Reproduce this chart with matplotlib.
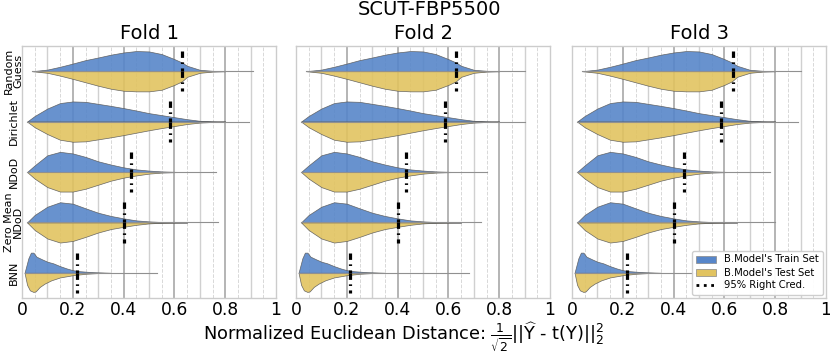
import matplotlib
matplotlib.use('Agg')
import matplotlib.pyplot as plt
from matplotlib.patches import Patch
from matplotlib.lines import Line2D

# ---- data ----
methods = ["Random\nGuess", "Dirichlet", "NDoD", "Zero Mean\nNDoD", "BNN"]
folds = ["Fold 1", "Fold 2", "Fold 3"]

# relative density profiles (max = 1), train = upper half, test = lower half
rg_x = [0.04, 0.10, 0.15, 0.20, 0.25, 0.30, 0.35, 0.40, 0.45, 0.50, 0.55, 0.60, 0.63, 0.65, 0.70, 0.75, 0.80]
rg_train = [0, 0.08, 0.22, 0.38, 0.55, 0.68, 0.82, 0.93, 1.0, 0.98, 0.85, 0.60, 0.43, 0.27, 0.07, 0.02, 0]
rg_test = [0, 0.08, 0.22, 0.38, 0.55, 0.72, 0.87, 0.97, 1.0, 1.0, 0.92, 0.68, 0.50, 0.28, 0.08, 0.02, 0]

dir_x = [0.02, 0.05, 0.10, 0.15, 0.20, 0.25, 0.30, 0.35, 0.40, 0.45, 0.50, 0.55, 0.60, 0.65, 0.70, 0.75, 0.80]
dir_train = [0, 0.28, 0.65, 0.92, 1.0, 0.98, 0.88, 0.78, 0.67, 0.55, 0.42, 0.32, 0.22, 0.12, 0.04, 0.01, 0]
dir_test = [0, 0.28, 0.62, 0.90, 1.0, 0.98, 0.88, 0.78, 0.67, 0.55, 0.43, 0.32, 0.22, 0.12, 0.05, 0.02, 0]

ndod_x = [0.02, 0.05, 0.10, 0.15, 0.20, 0.25, 0.30, 0.35, 0.40, 0.45, 0.50, 0.55, 0.60, 0.65]
ndod_train = [0, 0.33, 0.83, 1.0, 0.92, 0.75, 0.53, 0.37, 0.23, 0.13, 0.07, 0.03, 0.01, 0]
ndod_test = [0, 0.33, 0.75, 0.97, 0.97, 0.83, 0.63, 0.43, 0.28, 0.17, 0.08, 0.03, 0.01, 0]

zm_x = [0.02, 0.05, 0.10, 0.15, 0.20, 0.25, 0.30, 0.35, 0.40, 0.45, 0.50, 0.55, 0.60, 0.65]
zm_train = [0, 0.37, 0.78, 1.0, 0.93, 0.70, 0.48, 0.32, 0.20, 0.10, 0.05, 0.02, 0.01, 0]
zm_test = [0, 0.38, 0.80, 1.0, 0.92, 0.72, 0.50, 0.33, 0.22, 0.12, 0.05, 0.02, 0.01, 0]

bnn_x_train = [0.01, 0.025, 0.035, 0.045, 0.057, 0.077, 0.10, 0.123, 0.15, 0.175, 0.20, 0.227, 0.28, 0.35]
bnn_train = [0, 0.72, 1.0, 1.0, 0.80, 0.68, 0.55, 0.47, 0.33, 0.22, 0.13, 0.08, 0.03, 0]
bnn_x_test = [0.01, 0.02, 0.031, 0.045, 0.054, 0.07, 0.09, 0.116, 0.15, 0.20, 0.25, 0.32]
bnn_test = [0, 0.60, 0.87, 0.95, 0.92, 0.70, 0.53, 0.37, 0.23, 0.12, 0.05, 0]

# 95% right credible value per method, per fold
cred_fold1 = [0.630, 0.584, 0.430, 0.400, 0.217]
cred_fold2 = [0.631, 0.585, 0.433, 0.400, 0.213]
cred_fold3 = [0.634, 0.586, 0.439, 0.402, 0.216]

# max observed distance per method, per fold (end of thin range line)
max_fold1 = [0.91, 0.895, 0.765, 0.77, 0.53]
max_fold2 = [0.90, 0.90, 0.75, 0.73, 0.68]
max_fold3 = [0.90, 0.89, 0.78, 0.80, 0.55]

profiles = [
    (rg_x, rg_train, rg_x, rg_test),
    (dir_x, dir_train, dir_x, dir_test),
    (ndod_x, ndod_train, ndod_x, ndod_test),
    (zm_x, zm_train, zm_x, zm_test),
    (bnn_x_train, bnn_train, bnn_x_test, bnn_test),
]
creds = [cred_fold1, cred_fold2, cred_fold3]
maxes = [max_fold1, max_fold2, max_fold3]

train_color = '#5786c9'
test_color = '#e1c360'
half = 0.4
cred_ls = (0, (2.0, 1.4, 0.5, 1.4))

fig = plt.figure(figsize=(8.3, 3.53), dpi=100)
lefts = [22 / 830, 296 / 830, 572 / 830]
bottom = 1 - 298 / 353
height = 252 / 353
width = 254 / 830

for k, fold in enumerate(folds):
    ax = fig.add_axes([lefts[k], bottom, width, height])

    # vertical grid: 0.2 dark, 0.1 light, 0.05 dashed
    for j in range(1, 20):
        xv = j * 0.05
        if j % 4 == 0:
            ax.axvline(xv, color='#a8a8a8', lw=1.2, zorder=0)
        elif j % 2 == 0:
            ax.axvline(xv, color='#d0d0d0', lw=1.0, zorder=0)
        else:
            ax.axvline(xv, color='#d8d8d8', lw=0.7, ls='--', zorder=0)

    for i, (xtr, htr, xte, hte) in enumerate(profiles):
        ax.plot([min(xtr[0], xte[0]), maxes[k][i]], [i, i], color='#909090', lw=0.8, zorder=3)
        ax.fill_between(xtr, [i - half * h for h in htr], i, facecolor=train_color,
                        edgecolor=(0.35, 0.35, 0.35, 0.5), lw=0.5, alpha=0.9, zorder=2)
        ax.fill_between(xte, i, [i + half * h for h in hte], facecolor=test_color,
                        edgecolor=(0.35, 0.35, 0.35, 0.5), lw=0.5, alpha=0.9, zorder=2)
        c = creds[k][i]
        ax.plot([c, c], [i - half, i], color='black', lw=2.3, ls=cred_ls, zorder=5)
        ax.plot([c, c], [i, i + half], color='black', lw=2.3, ls=cred_ls, zorder=5)

    ax.set_xlim(0, 1)
    ax.set_ylim(len(methods) - 0.5, -0.5)
    ax.set_xticks([0, 0.2, 0.4, 0.6, 0.8, 1])
    ax.set_xticklabels(['0', '0.2', '0.4', '0.6', '0.8', '1'])
    ax.tick_params(axis='x', length=0, labelsize=12.3, pad=2.5)
    ax.set_yticks(range(len(methods)))
    if k == 0:
        ax.set_yticklabels(methods, rotation=90, va='center', ha='center',
                           fontsize=8, linespacing=0.9)
        ax.tick_params(axis='y', length=0, pad=6)
    else:
        ax.set_yticklabels([])
        ax.tick_params(axis='y', length=0)
    for s in ax.spines.values():
        s.set_color('#cccccc')
        s.set_linewidth(1.0)
    ax.set_title(fold, fontsize=14, pad=5)

    if k == 2:
        handles = [
            Patch(facecolor=train_color, edgecolor='#888888', lw=0.5, label="B.Model's Train Set"),
            Patch(facecolor=test_color, edgecolor='#888888', lw=0.5, label="B.Model's Test Set"),
            Line2D([0], [0], color='black', lw=2, ls=':', label='95% Right Cred.'),
        ]
        leg = ax.legend(handles=handles, loc='lower right', fontsize=7.2,
                        framealpha=0.95, edgecolor='#cccccc', fancybox=True,
                        borderaxespad=0.35, handlelength=2.0, labelspacing=0.3)
        leg.set_zorder(10)

fig.text(0.518, 0.972, 'SCUT-FBP5500', ha='center', va='center', fontsize=14)
fig.text(0.486, 1 - 340 / 353,
         r"Normalized Euclidean Distance: $\frac{1}{\sqrt{2}}||\widehat{\mathrm{Y}}$ - t(Y)$||_2^2$",
         ha='center', va='baseline', fontsize=12.8)

fig.savefig('out.png', dpi=100)
